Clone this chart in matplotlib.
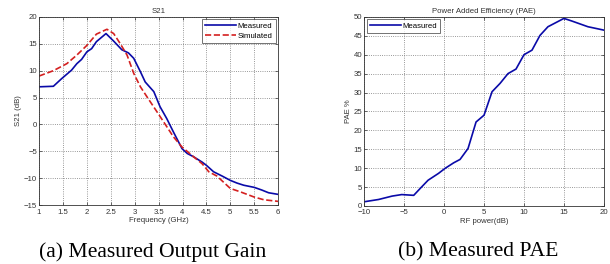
import numpy as np
import matplotlib.pyplot as plt

# S21 データ
freq_meas = [1.0, 1.3, 1.47, 1.68, 1.79, 1.89, 2.0, 2.1, 2.2, 2.4, 2.56, 2.73, 2.87, 2.98,
             3.12, 3.22, 3.4, 3.53, 3.67, 3.81, 3.99, 4.1, 4.23, 4.41, 4.5, 4.65, 4.83,
             5.0, 5.14, 5.28, 5.5, 5.66, 5.8, 6.0]
s21_meas = [7.0, 7.1, 8.5, 10.1, 11.3, 12.1, 13.5, 14.1, 15.4, 16.9, 15.5, 13.9, 13.3, 12.3,
            9.8, 7.9, 6.1, 3.3, 1.1, -1.4, -4.5, -5.4, -6.0, -7.0, -7.6, -8.8, -9.6,
            -10.4, -10.9, -11.3, -11.7, -12.2, -12.7, -13.0]
freq_sim = [1.0, 1.3, 1.58, 1.79, 2.0, 2.2, 2.42, 2.56, 2.7, 2.84, 2.98, 3.12, 3.26, 3.47,
            3.67, 3.81, 3.99, 4.23, 4.41, 4.55, 4.72, 5.0, 5.2, 5.5, 5.7, 6.0]
s21_sim = [9.0, 10.0, 11.3, 12.9, 14.7, 16.8, 17.7, 16.9, 15.0, 12.9, 9.5, 7.0, 5.1, 2.3,
           -0.4, -2.3, -4.2, -6.0, -7.3, -8.8, -9.6, -11.9, -12.5, -13.5, -14.0, -14.3]

# PAE データ
rf_power = [-10, -8.2, -6.5, -5.3, -3.8, -3, -2, -0.7, 0.1, 1.2, 2, 3, 4, 5, 6, 7, 8, 9,
            10, 11, 12, 13, 15, 16, 18, 20]
pae = [1.1, 1.7, 2.6, 3.0, 2.8, 4.6, 6.8, 8.6, 9.9, 11.4, 12.3, 15.2, 22.2, 24.0, 30.2,
       32.4, 35.0, 36.2, 40.0, 41.2, 45.1, 47.4, 49.6, 48.9, 47.4, 46.5]

BLUE = "#0a0aa8"
RED = "#d42020"
FS = 5.6
TXT = "#333333"


def style(ax):
    ax.grid(True, color="#777777", linestyle=":", linewidth=0.6)
    ax.tick_params(direction="in", labelsize=FS, length=2, width=0.5, pad=1.5,
                   top=True, right=True, labelcolor=TXT, color=TXT)
    ax.tick_params(axis="x", pad=2.5)
    for s in ax.spines.values():
        s.set_linewidth(0.6)
        s.set_color(TXT)


plt.rcParams["font.family"] = ["Liberation Sans", "DejaVu Sans"]
fig = plt.figure(figsize=(6.1, 2.64), dpi=100)

ax1 = fig.add_axes([0.064, 0.223, 0.392, 0.713])
ax1.plot(freq_meas, s21_meas, color=BLUE, linewidth=1.2, label="Measured")
ax1.plot(freq_sim, s21_sim, color=RED, linewidth=1.2, linestyle="--", label="Simulated")
ax1.set_xlim(1, 6)
ax1.set_ylim(-15, 20)
ax1.set_xticks(np.arange(1, 6.01, 0.5))
ax1.set_xticklabels(["1", "1.5", "2", "2.5", "3", "3.5", "4", "4.5", "5", "5.5", "6"])
ax1.set_yticks(np.arange(-15, 21, 5))
ax1.set_title("S21", fontsize=FS, pad=3, color=TXT)
ax1.set_xlabel("Frequency (GHz)", fontsize=FS, labelpad=1, color=TXT)
ax1.set_ylabel("S21 (dB)", fontsize=FS, labelpad=1, color=TXT)
style(ax1)
leg = ax1.legend(loc="upper right", fontsize=FS, fancybox=False, edgecolor=TXT,
                 borderpad=0.4, handlelength=4, handletextpad=0.2, labelspacing=0.3,
                 borderaxespad=0.3)
leg.get_frame().set_linewidth(0.6)

ax2 = fig.add_axes([0.597, 0.220, 0.393, 0.716])
ax2.plot(rf_power, pae, color=BLUE, linewidth=1.2, label="Measured")
ax2.set_xlim(-10, 20)
ax2.set_ylim(0, 50)
ax2.set_xticks(np.arange(-10, 21, 5))
ax2.set_yticks(np.arange(0, 51, 5))
ax2.set_title("Power Added Efficiency (PAE)", fontsize=FS, pad=3, color=TXT)
ax2.set_xlabel("RF power(dB)", fontsize=FS, labelpad=1, color=TXT)
ax2.set_ylabel("PAE %", fontsize=FS, labelpad=1, color=TXT)
style(ax2)
leg = ax2.legend(loc="upper left", fontsize=FS, fancybox=False, edgecolor=TXT,
                 borderpad=0.4, handlelength=4, handletextpad=0.2,
                 borderaxespad=0.3)
leg.get_frame().set_linewidth(0.6)

# キャプション
fig.text(0.25, 0.027, "(a) Measured Output Gain", ha="center", va="baseline",
         fontsize=15.6, family=["Liberation Serif", "DejaVu Serif"])
fig.text(0.784, 0.027, "(b) Measured PAE", ha="center", va="baseline",
         fontsize=15.6, family=["Liberation Serif", "DejaVu Serif"])

fig.savefig("out.png", dpi=100)
